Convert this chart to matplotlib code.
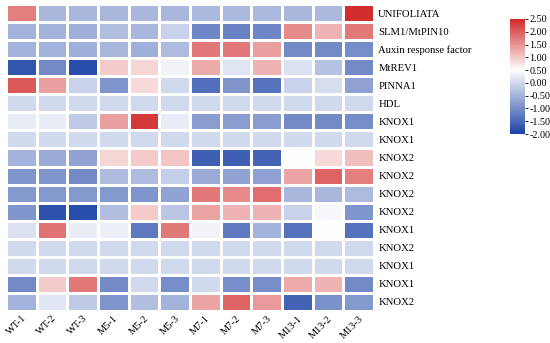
import numpy as np
import matplotlib.pyplot as plt
from matplotlib.colors import LinearSegmentedColormap

samples = ['WT-1', 'WT-2', 'WT-3', 'M5-1', 'M5-2', 'M5-3',
           'M7-1', 'M7-2', 'M7-3', 'M13-1', 'M13-2', 'M13-3']
genes = ['UNIFOLIATA', 'SLM1/MtPIN10', 'Auxin response factor', 'MtREV1',
         'PINNA1', 'HDL', 'KNOX1', 'KNOX1', 'KNOX2', 'KNOX2', 'KNOX2',
         'KNOX2', 'KNOX1', 'KNOX2', 'KNOX1', 'KNOX1', 'KNOX2']

unifoliata = [1.7, -0.45, -0.45, -0.45, -0.45, -0.45, -0.42, -0.42, -0.42, -0.45, -0.42, 2.45]
slm1 = [-0.5, -0.5, -0.55, -0.35, -0.45, -0.1, -1.1, -1.15, -1.1, 1.6, 1.2, 1.75]
arf = [-0.5, -0.5, -0.55, -0.45, -0.55, -0.4, 1.75, 1.75, 1.4, -1.05, -1.05, -1.0]
mtrev1 = [-1.75, -1.05, -1.85, 1.0, 0.9, 0.35, 1.3, 0.15, 1.2, 0.1, -0.3, -1.05]
pinna1 = [2.05, 1.4, -0.1, -0.9, 0.85, 0.0, -1.4, -0.9, -1.35, -0.1, 0.05, -0.75]
hdl = [0.0] * 12
knox1_a = [0.25, 0.25, -0.2, 1.4, 2.35, 0.25, -0.8, -0.8, -0.8, -1.05, -1.05, -1.0]
knox1_b = [0.0] * 12
knox2_a = [-0.5, -0.6, -0.7, 0.9, 1.0, 1.05, -1.6, -1.6, -1.55, 0.5, 0.85, 1.1]
knox2_b = [-0.9, -0.9, -1.05, -0.4, -0.4, -0.15, -0.6, -0.7, -0.75, 1.35, 1.95, 1.7]
knox2_c = [-0.85, -0.85, -0.85, -0.85, -0.9, -0.7, 1.75, 1.6, 1.85, -0.45, -0.45, -0.4]
knox2_d = [-0.9, -1.8, -1.85, -0.35, 1.0, -0.25, 1.35, 1.2, 1.2, -0.1, 0.4, -0.9]
knox1_c = [0.1, 1.8, 0.25, 0.3, -1.25, 1.75, 0.35, -1.25, -0.5, -1.35, 0.5, -1.35]
knox2_e = [0.0] * 12
knox1_d = [0.0] * 12
knox1_e = [-1.05, 1.0, 1.75, -1.05, 0.0, -1.0, 0.0, -1.0, -1.0, 1.3, 1.2, -1.05]
knox2_f = [-0.5, 0.15, -0.2, -0.9, -0.35, -0.5, 1.35, 1.95, 1.45, -1.55, -0.95, -0.85]

data = np.array([unifoliata, slm1, arf, mtrev1, pinna1, hdl, knox1_a, knox1_b,
                 knox2_a, knox2_b, knox2_c, knox2_d, knox1_c, knox2_e,
                 knox1_d, knox1_e, knox2_f])

plt.rcParams['font.family'] = ['Liberation Serif', 'DejaVu Serif']

vmin, vmax = -2.0, 2.5
mid = (0.5 - vmin) / (vmax - vmin)
cmap = LinearSegmentedColormap.from_list(
    'bwr_custom', [(0, '#1c42a5'), (mid, '#ffffff'), (1, '#d12a2a')])

fig = plt.figure(figsize=(5.5, 3.43), dpi=100)
ax = fig.add_axes([6/550, 1 - 311/343, 368/550, 307/343])
mesh = ax.pcolormesh(data, cmap=cmap, vmin=vmin, vmax=vmax,
                     edgecolors='white', linewidth=0.8)
ax.set_xlim(0, len(samples))
ax.set_ylim(len(genes), 0)
for s in ax.spines.values():
    s.set_visible(False)

ax.set_xticks(np.arange(len(samples)) + 0.5)
ax.set_xticklabels(samples, rotation=45, ha='right', rotation_mode='anchor',
                   fontsize=7.5)
ax.yaxis.tick_right()
ax.set_yticks(np.arange(len(genes)) + 0.5)
ax.set_yticklabels(genes, fontsize=7.7)
ax.tick_params(length=0, pad=3)
ax.tick_params(axis='x', pad=2)

cax = fig.add_axes([510/550, 1 - 134/343, 15/550, 115/343])
cb = fig.colorbar(mesh, cax=cax)
cb.set_ticks(np.arange(-2.0, 2.51, 0.5))
cb.ax.set_yticklabels(['%.2f' % t for t in np.arange(-2.0, 2.51, 0.5)],
                      fontsize=7.3)
cb.ax.tick_params(length=2, width=0.6, pad=1)
cb.outline.set_visible(False)

fig.savefig('out.png', dpi=100)
